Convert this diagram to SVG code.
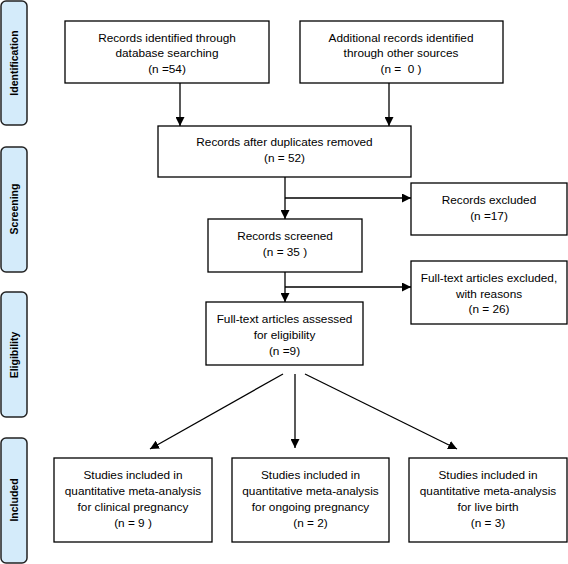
<svg xmlns="http://www.w3.org/2000/svg" width="568" height="564" viewBox="0 0 568 564">
<style>
.box{fill:#fff;stroke:#000;stroke-width:1.3}
.side{fill:#d4ebfa;stroke:#222;stroke-width:1.5}
.t{font-family:"Liberation Sans",Arial,sans-serif;font-size:11.8px;fill:#000;text-anchor:middle}
.s{font-family:"Liberation Sans",Arial,sans-serif;font-size:10.5px;font-weight:bold;fill:#000;text-anchor:middle}
.c{stroke:#000;stroke-width:1.3;fill:none}
</style>
<defs>
<marker id="ah" viewBox="0 0 10 10" refX="10" refY="5" markerWidth="9" markerHeight="9" markerUnits="userSpaceOnUse" orient="auto">
<path d="M0,0 L10,5 L0,10 z" fill="#000"/>
</marker>
</defs>
<g id="side-identification"><rect class="side" x="1" y="1" width="26" height="124" rx="5"/><text class="s" transform="translate(18,63) rotate(-90)">Identification</text></g>
<g id="side-screening"><rect class="side" x="1" y="147" width="26" height="125" rx="5"/><text class="s" transform="translate(18,209) rotate(-90)">Screening</text></g>
<g id="side-eligibility"><rect class="side" x="1" y="292" width="26" height="125" rx="5"/><text class="s" transform="translate(18,355) rotate(-90)">Eligibility</text></g>
<g id="side-included"><rect class="side" x="1" y="438" width="26" height="125" rx="5"/><text class="s" transform="translate(18,500) rotate(-90)">Included</text></g>

<g id="connectors">
<line class="c" x1="180" y1="83" x2="180" y2="126" marker-end="url(#ah)"/>
<line class="c" x1="389" y1="83" x2="389" y2="126" marker-end="url(#ah)"/>
<line class="c" x1="285" y1="177" x2="285" y2="219" marker-end="url(#ah)"/>
<line class="c" x1="285" y1="198" x2="411" y2="198" marker-end="url(#ah)"/>
<line class="c" x1="285" y1="272" x2="285" y2="302" marker-end="url(#ah)"/>
<line class="c" x1="285" y1="287" x2="411" y2="287" marker-end="url(#ah)"/>
<line class="c" x1="283" y1="374" x2="150" y2="449" marker-end="url(#ah)"/>
<line class="c" x1="295" y1="374" x2="295" y2="448" marker-end="url(#ah)"/>
<line class="c" x1="305" y1="374" x2="457" y2="449" marker-end="url(#ah)"/>
</g>

<g id="n1"><rect class="box" x="65" y="21" width="204" height="62"/>
<text class="t" x="167" y="42">Records identified through</text>
<text class="t" x="167" y="57">database searching</text>
<text class="t" x="167" y="73">(n =54)</text></g>
<g id="n2"><rect class="box" x="300" y="21" width="203" height="62"/>
<text class="t" x="401" y="42">Additional records identified</text>
<text class="t" x="401" y="57">through other sources</text>
<text class="t" x="401" y="73">(n =&#160; 0 )</text></g>
<g id="n3"><rect class="box" x="158" y="126" width="253" height="51"/>
<text class="t" x="284.5" y="146">Records after duplicates removed</text>
<text class="t" x="284.5" y="162">(n = 52)</text></g>
<g id="n4"><rect class="box" x="411" y="183" width="156" height="52"/>
<text class="t" x="489" y="204">Records excluded</text>
<text class="t" x="489" y="220">(n =17)</text></g>
<g id="n5"><rect class="box" x="208" y="219" width="154" height="53"/>
<text class="t" x="285" y="240">Records screened</text>
<text class="t" x="285" y="256">(n = 35 )</text></g>
<g id="n6"><rect class="box" x="411" y="261" width="156" height="63"/>
<text class="t" x="489" y="282">Full-text articles excluded,</text>
<text class="t" x="489" y="298">with reasons</text>
<text class="t" x="489" y="313">(n = 26)</text></g>
<g id="n7"><rect class="box" x="206" y="302" width="157" height="63"/>
<text class="t" x="284.5" y="323">Full-text articles assessed</text>
<text class="t" x="284.5" y="339">for eligibility</text>
<text class="t" x="284.5" y="355">(n =9)</text></g>
<g id="n8"><rect class="box" x="54" y="458" width="158" height="84"/>
<text class="t" x="133" y="479">Studies included in</text>
<text class="t" x="133" y="495">quantitative meta-analysis</text>
<text class="t" x="133" y="511">for clinical pregnancy</text>
<text class="t" x="133" y="527">(n = 9 )</text></g>
<g id="n9"><rect class="box" x="232" y="458" width="157" height="84"/>
<text class="t" x="310.5" y="479">Studies included in</text>
<text class="t" x="310.5" y="495">quantitative meta-analysis</text>
<text class="t" x="310.5" y="511">for ongoing pregnancy</text>
<text class="t" x="310.5" y="527">(n = 2)</text></g>
<g id="n10"><rect class="box" x="409" y="458" width="158" height="84"/>
<text class="t" x="488" y="479">Studies included in</text>
<text class="t" x="488" y="495">quantitative meta-analysis</text>
<text class="t" x="488" y="511">for live birth</text>
<text class="t" x="488" y="527">(n = 3)</text></g>
</svg>
